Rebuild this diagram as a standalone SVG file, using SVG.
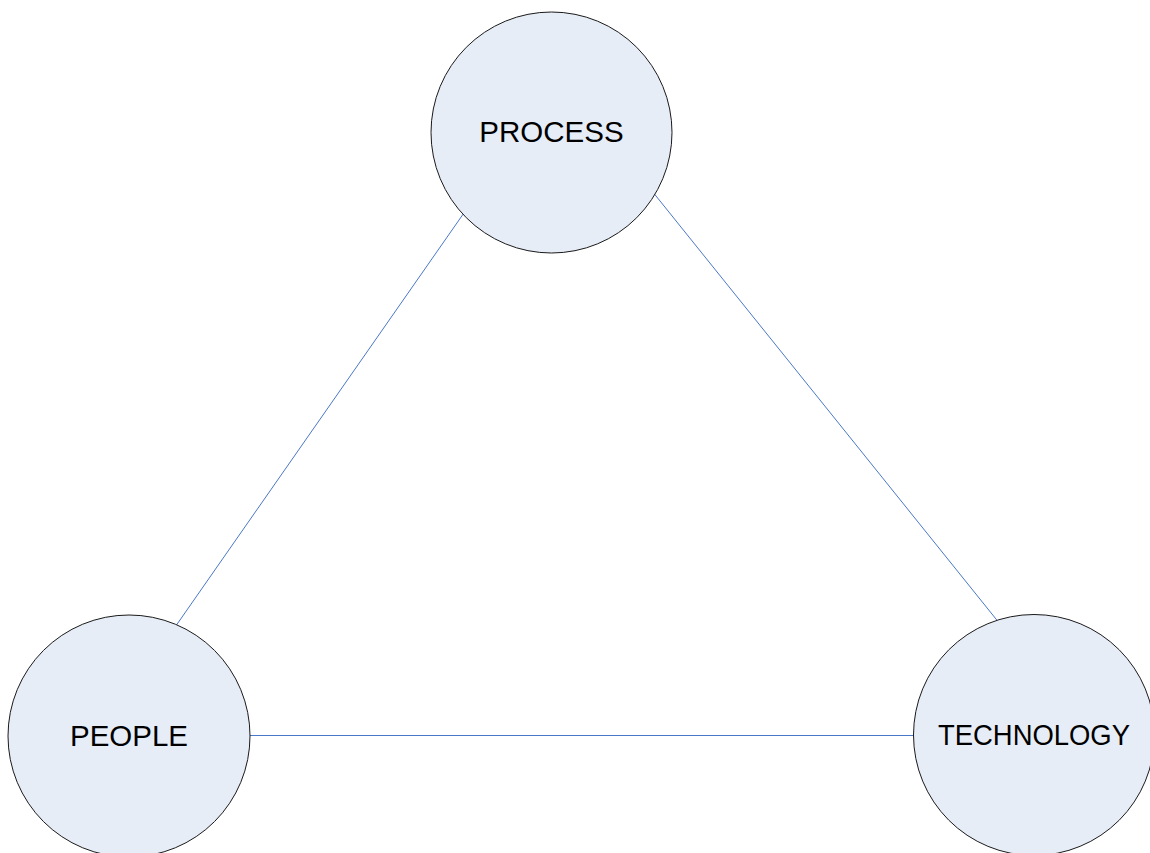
<svg xmlns="http://www.w3.org/2000/svg" width="1150" height="853" viewBox="0 0 1150 853">
<style>
.n{fill:#E7EDF7;stroke:#1a1a1a;stroke-width:1}
.t{font-family:"Liberation Sans",Arial,sans-serif;font-size:29.5px;fill:#000;text-anchor:middle}
.c{stroke:#4A78C8;stroke-width:1;fill:none}
</style>
<rect width="1150" height="853" fill="#fff"/>
<g id="connectors">
<line class="c" x1="466" y1="210" x2="173" y2="630"/>
<line class="c" x1="652" y1="191" x2="1000" y2="624"/>
<line class="c" x1="245" y1="735.5" x2="918" y2="735.5"/>
</g>
<g id="process">
<circle class="n" cx="551.5" cy="132.5" r="120.5"/>
<text class="t" x="551.5" y="141.5">PROCESS</text>
</g>
<g id="people">
<circle class="n" cx="129" cy="736" r="121"/>
<text class="t" x="129" y="745.5">PEOPLE</text>
</g>
<g id="technology">
<circle class="n" cx="1034" cy="735" r="120.5"/>
<text class="t" x="1034" y="744.5" textLength="192" lengthAdjust="spacingAndGlyphs">TECHNOLOGY</text>
</g>
</svg>
